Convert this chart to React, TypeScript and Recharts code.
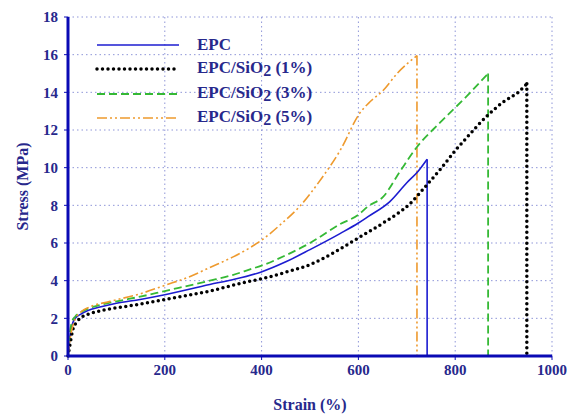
import { LineChart, Line, XAxis, YAxis, CartesianGrid } from 'recharts';

// strain (%) / stress (MPa); each curve ends at break
const epc = [
  { strain: 0, stress: 0 }, { strain: 3, stress: 0.8 }, { strain: 8, stress: 1.6 }, { strain: 15, stress: 2.0 },
  { strain: 25, stress: 2.2 }, { strain: 40, stress: 2.4 }, { strain: 66, stress: 2.6 }, { strain: 100, stress: 2.8 },
  { strain: 149, stress: 3.0 }, { strain: 200, stress: 3.25 }, { strain: 293, stress: 3.8 }, { strain: 340, stress: 4.05 },
  { strain: 398, stress: 4.45 }, { strain: 450, stress: 5.0 }, { strain: 500, stress: 5.65 }, { strain: 562, stress: 6.5 },
  { strain: 600, stress: 7.06 }, { strain: 620, stress: 7.4 }, { strain: 665, stress: 8.2 }, { strain: 700, stress: 9.2 },
  { strain: 723, stress: 9.8 }, { strain: 742, stress: 10.45 },
];

const epc1 = [
  { strain: 0, stress: 0 }, { strain: 4, stress: 0.6 }, { strain: 10, stress: 1.4 }, { strain: 18, stress: 1.8 },
  { strain: 25, stress: 2.0 }, { strain: 52, stress: 2.3 }, { strain: 87, stress: 2.5 }, { strain: 149, stress: 2.75 },
  { strain: 200, stress: 3.0 }, { strain: 293, stress: 3.45 }, { strain: 340, stress: 3.75 }, { strain: 376, stress: 3.97 },
  { strain: 400, stress: 4.1 }, { strain: 450, stress: 4.45 }, { strain: 500, stress: 4.85 }, { strain: 550, stress: 5.5 },
  { strain: 600, stress: 6.27 }, { strain: 651, stress: 7.06 }, { strain: 707, stress: 8.1 }, { strain: 742, stress: 9.1 },
  { strain: 769, stress: 9.9 }, { strain: 800, stress: 10.9 }, { strain: 824, stress: 11.6 }, { strain: 868, stress: 12.8 },
  { strain: 900, stress: 13.5 }, { strain: 930, stress: 14.0 }, { strain: 948, stress: 14.45 },
];

const epc3 = [
  { strain: 0, stress: 0 }, { strain: 3, stress: 1.0 }, { strain: 8, stress: 1.8 }, { strain: 15, stress: 2.1 },
  { strain: 25, stress: 2.3 }, { strain: 40, stress: 2.5 }, { strain: 66, stress: 2.7 }, { strain: 100, stress: 2.9 },
  { strain: 149, stress: 3.15 }, { strain: 200, stress: 3.45 }, { strain: 293, stress: 4.0 }, { strain: 340, stress: 4.3 },
  { strain: 376, stress: 4.6 }, { strain: 400, stress: 4.8 }, { strain: 450, stress: 5.35 }, { strain: 500, stress: 6.0 },
  { strain: 562, stress: 7.0 }, { strain: 600, stress: 7.5 }, { strain: 620, stress: 7.95 }, { strain: 651, stress: 8.45 },
  { strain: 686, stress: 9.8 }, { strain: 721, stress: 11.1 }, { strain: 769, stress: 12.4 }, { strain: 824, stress: 13.8 },
  { strain: 868, stress: 15.0 },
];

const epc5 = [
  { strain: 0, stress: 0 }, { strain: 4, stress: 0.85 }, { strain: 14, stress: 1.9 }, { strain: 25, stress: 2.3 },
  { strain: 45, stress: 2.6 }, { strain: 87, stress: 2.9 }, { strain: 149, stress: 3.3 }, { strain: 200, stress: 3.75 },
  { strain: 250, stress: 4.2 }, { strain: 293, stress: 4.7 }, { strain: 340, stress: 5.25 }, { strain: 376, stress: 5.75 },
  { strain: 400, stress: 6.15 }, { strain: 440, stress: 7.0 }, { strain: 479, stress: 7.95 }, { strain: 523, stress: 9.4 },
  { strain: 562, stress: 10.9 }, { strain: 603, stress: 12.9 }, { strain: 624, stress: 13.5 }, { strain: 651, stress: 14.1 },
  { strain: 680, stress: 15.0 }, { strain: 721, stress: 15.95 },
];

const xTicks = [0, 200, 400, 600, 800, 1000];
const yTicks = [0, 2, 4, 6, 8, 10, 12, 14, 16, 18];

const navy = '#27288c';
const frame = '#0a0ab4';
const font = '"Liberation Serif", serif';

const series = [
  { key: 'epc', data: epc, label: 'EPC', sub: '', color: '#1c1cd0', width: 1.6, dash: undefined, cap: 'butt' },
  { key: 'epc1', data: epc1, label: 'EPC/SiO', sub: ' (1%)', color: '#000000', width: 3.5, dash: '0 5.5', cap: 'round' },
  { key: 'epc3', data: epc3, label: 'EPC/SiO', sub: ' (3%)', color: '#35b935', width: 1.8, dash: '8 4', cap: 'butt' },
  { key: 'epc5', data: epc5, label: 'EPC/SiO', sub: ' (5%)', color: '#ee9a2e', width: 1.6, dash: '10 3 2 3 2 3', cap: 'butt' },
];

// vertical drop at break point
const breakLine = (data: { strain: number; stress: number }[]) => {
  const last = data[data.length - 1];
  return [last, { strain: last.strain, stress: 0 }];
};

function LegendBox() {
  return (
    <div style={{ position: 'absolute', left: 95, top: 33, fontFamily: font, fontWeight: 'bold', color: navy, fontSize: 17 }}>
      {series.map((s) => (
        <div key={s.key} style={{ display: 'flex', alignItems: 'center', height: 24.3 }}>
          <svg width={86} height={10} style={{ marginRight: 16 }}>
            <line x1={2} y1={5} x2={84} y2={5} stroke={s.color} strokeWidth={s.width}
              strokeDasharray={s.dash} strokeLinecap={s.cap as any} />
          </svg>
          <span>
            {s.label}
            {s.sub && <sub style={{ fontSize: 16, verticalAlign: -3 }}>2</sub>}
            {s.sub}
          </span>
        </div>
      ))}
    </div>
  );
}

export default function App() {
  const tick = { fontSize: 15, fill: navy, fontFamily: font, fontWeight: 'bold' as const };
  return (
    <div style={{ position: 'absolute', left: 0, top: 0, width: 567, height: 415, background: '#fff' }}>
      <LineChart width={567} height={415} margin={{ top: 17, right: 15, left: 20, bottom: 29 }}>
        <CartesianGrid xAxisId="b" yAxisId="l" stroke="#8f96d8" strokeDasharray="1.5 3" />
        <XAxis xAxisId="b" type="number" dataKey="strain" domain={[0, 1000]} ticks={xTicks}
          tick={tick} tickSize={4} tickMargin={4} height={30} allowDuplicatedCategory={false}
          axisLine={{ stroke: frame, strokeWidth: 3 }} tickLine={{ stroke: frame }}
          label={{ value: 'Strain (%)', position: 'insideBottom', offset: -24, style: { ...tick, fontSize: 16 } }} />
        <XAxis xAxisId="t" orientation="top" type="number" dataKey="strain" domain={[0, 1000]} ticks={xTicks}
          tick={false} tickLine={false} height={0} axisLine={{ stroke: frame, strokeWidth: 3 }} />
        <YAxis yAxisId="l" type="number" domain={[0, 18]} ticks={yTicks} width={48}
          tick={tick} tickSize={4} tickMargin={6}
          axisLine={{ stroke: frame, strokeWidth: 3 }} tickLine={{ stroke: frame }}
          label={{ value: 'Stress (MPa)', angle: -90, position: 'insideLeft', offset: 2, style: { ...tick, fontSize: 16, textAnchor: 'middle' } }} />
        <YAxis yAxisId="r" orientation="right" type="number" domain={[0, 18]} ticks={yTicks} width={0}
          tick={false} tickLine={false} axisLine={{ stroke: frame, strokeWidth: 3 }} />
        {series.map((s) => (
          <Line key={s.key + '-drop'} xAxisId="b" yAxisId="l" data={breakLine(s.data)} dataKey="stress" type="linear"
            stroke={s.color} strokeWidth={s.width} strokeDasharray={s.dash} strokeLinecap={s.cap as any}
            dot={false} activeDot={false} isAnimationActive={false} />
        ))}
        {series.map((s) => (
          <Line key={s.key} xAxisId="b" yAxisId="l" data={s.data} dataKey="stress" type="monotone"
            stroke={s.color} strokeWidth={s.width} strokeDasharray={s.dash} strokeLinecap={s.cap as any}
            strokeLinejoin="round" dot={false} activeDot={false} isAnimationActive={false} />
        ))}
      </LineChart>
      <LegendBox />
    </div>
  );
}
